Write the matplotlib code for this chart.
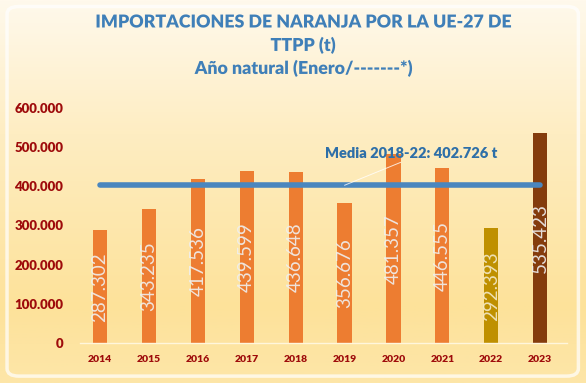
import numpy as np
import matplotlib
matplotlib.use("Agg")
import matplotlib.pyplot as plt
import matplotlib.patheffects as pe
from matplotlib.colors import LinearSegmentedColormap
from matplotlib.patches import FancyBboxPatch

years = ["2014", "2015", "2016", "2017", "2018", "2019", "2020", "2021", "2022", "2023"]
values = [287302, 343235, 417536, 439599, 436648, 356676, 481357, 446555, 292393, 535423]
labels = ["287.302", "343.235", "417.536", "439.599", "436.648", "356.676",
          "481.357", "446.555", "292.393", "535.423"]
bar_colors = ["#ED7D31"] * 8 + ["#BF9000", "#843C0C"]
mean_value = 402726
mean_label = "Media 2018-22: 402.726 t"
yticks = [0, 100000, 200000, 300000, 400000, 500000, 600000]
ytick_labels = ["0", "100.000", "200.000", "300.000", "400.000", "500.000", "600.000"]
title_lines = ["IMPORTACIONES DE NARANJA POR LA UE-27 DE", "TTPP (t)", "Año natural (Enero/-------*)"]

plt.rcParams['font.family'] = ['Lato', 'DejaVu Sans']

W, H = 586, 383
fig = plt.figure(figsize=(W / 100, H / 100), dpi=100)

# background gradient
bg = fig.add_axes([0, 0, 1, 1], zorder=-10)
cmap = LinearSegmentedColormap.from_list("bg", [(0, "#FFF9EC"), (0.35, "#FEEDC2"),
                                                 (0.8, "#FDE29A"), (1.0, "#FDE6A8")])
grad = np.linspace(0, 1, 256).reshape(-1, 1)
bg.imshow(grad, aspect="auto", cmap=cmap, extent=[0, 1, 0, 1], origin="upper")
bg.set_xlim(0, 1); bg.set_ylim(0, 1)
bg.axis("off")
frame = FancyBboxPatch((0.012, 0.018), 0.975, 0.965, boxstyle="round,pad=0,rounding_size=0.02",
                       fill=False, ec="#FFFFFF", lw=2.5, alpha=0.7, transform=bg.transAxes)
bg.add_patch(frame)

left = 80 / W
right = 567 / W
bottom = (H - 343) / H
top = (H - 108) / H
ax = fig.add_axes([left, bottom, right - left, top - bottom])
ax.patch.set_alpha(0)

x = np.arange(len(years))
bars = ax.bar(x, values, width=0.29, color=bar_colors, zorder=2)

for xi, v, lab in zip(x, values, labels):
    col = "#F3E9C8" if xi == 8 else "#EFEFEF"
    ax.text(xi, v / 2, lab, rotation=90, ha="center", va="center", fontsize=13.5,
            color=col, alpha=0.9, zorder=4)

ax.plot([x[0], x[-1]], [mean_value, mean_value], color="#4A86BE", lw=4, zorder=3,
        solid_capstyle="round")

ax.annotate(mean_label, xy=(5.0, mean_value), xytext=(6.36, 485000),
            ha="center", va="center", fontsize=10.5, fontweight="heavy", color="#2E6FA8",
            arrowprops=dict(arrowstyle="-", color="white", lw=0.7, alpha=0.8,
                            shrinkA=0, shrinkB=0, relpos=(0.48, 0.0)),
            zorder=5)

ax.set_xlim(-0.41, 9.55)
ax.set_ylim(0, 600000)
ax.set_yticks(yticks)
ax.set_yticklabels(ytick_labels)
ax.set_xticks(x)
ax.set_xticklabels(years)
for s in ["top", "right", "left"]:
    ax.spines[s].set_visible(False)
ax.spines["bottom"].set_color("#FFF6DC")
ax.spines["bottom"].set_linewidth(1.0)
ax.tick_params(axis="both", length=0)
ax.tick_params(axis="y", pad=12, labelsize=9.5, labelcolor="#9E0B0B")
ax.tick_params(axis="x", pad=9, labelsize=7.5, labelcolor="#9E0B0B")
for t in ax.get_yticklabels() + ax.get_xticklabels():
    t.set_fontweight("heavy")

title_y = [22, 45, 68]
for line, yy in zip(title_lines, title_y):
    fig.text(303 / W, 1 - yy / H, line, ha="center", va="center", fontsize=12.8,
             fontweight="heavy", color="#3F7FB8",
             path_effects=[pe.SimpleLineShadow(offset=(1, -1), alpha=0.3), pe.Normal()])

fig.savefig("out.png", dpi=100)
